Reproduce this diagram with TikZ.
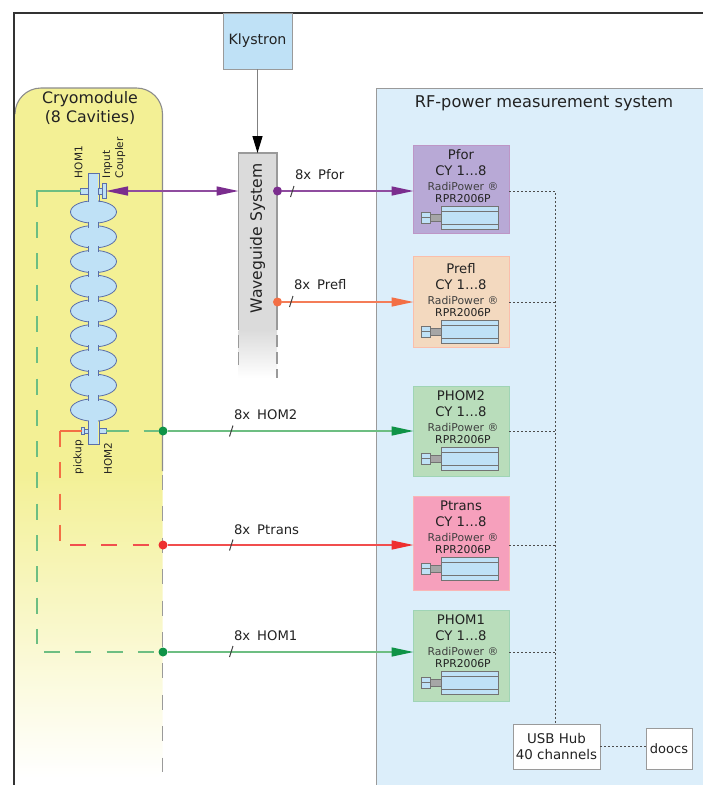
\documentclass[tikz,border=0pt]{standalone}
\usepackage{fontspec}
\setmainfont{DejaVu Sans}
\usetikzlibrary{arrows.meta}
\definecolor{frameC}{HTML}{333333}
\definecolor{blueC}{HTML}{BFE1F6}
\definecolor{rfC}{HTML}{DCEEFA}
\definecolor{yelC}{HTML}{F3F095}
\definecolor{edgeC}{HTML}{9A9A9A}
\definecolor{purC}{HTML}{7B2D8E}
\definecolor{oraC}{HTML}{F36F45}
\definecolor{greC}{HTML}{0F9347}
\definecolor{greL}{HTML}{6DBE82}
\definecolor{redC}{HTML}{EE2F2F}
\definecolor{txtC}{HTML}{222222}
\definecolor{cavC}{HTML}{5B6FA8}
\definecolor{mPur}{HTML}{B8A9D6}
\definecolor{mOra}{HTML}{F3D9BF}
\definecolor{mGre}{HTML}{B9DDBB}
\definecolor{mPin}{HTML}{F6A0BC}
\tikzset{
  lbl/.style={inner sep=0pt,outer sep=0pt,text=txtC,font=\fontsize{13.2}{15}\selectfont,align=center},
  biglbl/.style={lbl,font=\fontsize{15.8}{19}\selectfont},
  rot/.style={lbl,rotate=90,anchor=west,font=\fontsize{10.5}{12}\selectfont},
  whitebox/.style={draw=edgeC,fill=white,inner sep=0pt,outer sep=0pt,line width=1pt},
  dotline/.style={draw=black!70,line width=1pt,dash pattern=on 2pt off 2pt},
  sig/.style={line width=1.5pt,-{Triangle[length=22pt,width=9pt,color=#1,fill=#1]}},
  dashg/.style={line width=1.5pt,dash pattern=on 16pt off 15.3pt},
  joint/.style={circle,inner sep=0pt,minimum size=9pt,outer sep=0pt},
  slashm/.style={line width=1pt,draw=black!75},
  devbody/.style={draw=black!55,fill=blueC,line width=.8pt},
}
\newcommand{\measbox}[8]{% name, top, bottom, fill, border, title, ytitle, ydot
  \node[draw=#5,fill=#4,line width=1pt,inner sep=0pt,outer sep=0pt,minimum width=95.5pt,minimum height={#3pt-#2pt},anchor=north west] (#1) at (413.5,#2) {};
  \node[lbl] (#1t) at (461,#7) {#6};
  \node[lbl] (#1c) at (461,#7+16) {CY 1…8};
  \node[lbl,font=\fontsize{10.8}{12}\selectfont,text=black!75] (#1r) at (463,#7+31) {RadiPower ®};
  \node[lbl,font=\fontsize{10.8}{12}\selectfont] (#1m) at (463,#7+44) {RPR2006P};
  \draw[devbody] (441,#7+51) rectangle (498,#7+74);
  \draw[black!55,line width=.8pt] (441,#7+56.5) -- (498,#7+56.5) (441,#7+69) -- (498,#7+69);
  \draw[devbody] (421,#7+57) rectangle (430,#7+68);
  \draw[black!55,fill=black!35,line width=.6pt] (430,#7+59) rectangle (441,#7+66);
  \draw[black!55,line width=.6pt] (421,#7+62.5) -- (430,#7+62.5);
  \coordinate (#1o) at (509,#8);
  \coordinate (#1i) at (413.5,#8);
  \coordinate (#1b) at (555,#8);
}
\begin{document}
\begin{tikzpicture}[x=1pt,y=-1pt]
\useasboundingbox (0,0) rectangle (703,785);
% RF system
\path[fill=rfC] (376,88) rectangle (703,785);
\draw[edgeC,line width=1.1pt] (376.5,785) -- (376.5,88.5) -- (703,88.5);
\node[biglbl,font=\fontsize{16.2}{19}\selectfont] (rf) at (544,103) {RF-power measurement system};
% Cryomodule
\shade[top color=yelC,middle color=yelC!62!white,bottom color=white] (15,470) -- (162.5,470) [rounded corners=8pt] -- (162.5,778) -- (15,778) [sharp corners] -- cycle;
\fill[yelC] (15,471) [rounded corners=26pt] -- (15,88) -- (162.5,88) [sharp corners] -- (162.5,471) -- cycle;
\draw[black!45,line width=1.1pt] (15,112) [rounded corners=26pt] -- (15,88) -- (162.5,88) [sharp corners] -- (162.5,471);
\draw[edgeC,line width=1.2pt,dash pattern=on 15pt off 16.4pt] (162.5,475) -- (162.5,772);
\node[biglbl] (cryo) at (90,108.5) {Cryomodule\\(8 Cavities)};
% frame
\draw[frameC,line width=2pt] (14,785) -- (14,12.5) -- (703,12.5);
% Klystron
\node[draw=edgeC,fill=blueC,line width=1pt,inner sep=0pt,outer sep=0pt,minimum width=69pt,minimum height=56pt,anchor=north west] (kly) at (223,13) {};
\node[lbl,font=\fontsize{14.2}{16}\selectfont] (klyt) at (257.5,41) {Klystron};
% Waveguide
\fill[black!14] (238.5,153) rectangle (277,330);
\shade[top color=black!14,bottom color=white] (238.5,330) rectangle (277,378);
\draw[edgeC,line width=1.1pt] (238.5,330) -- (238.5,153) -- (277,153) -- (277,330);
\draw[edgeC,line width=1.1pt,dash pattern=on 13pt off 4pt] (238.5,335) -- (238.5,366);
\draw[edgeC,line width=1.1pt,dash pattern=on 12pt off 5pt] (277,335) -- (277,378);
\coordinate (wgtop) at (257.5,153);
\coordinate (wgleft) at (238.5,191);
\node[lbl,rotate=90,font=\fontsize{15.6}{16}\selectfont] (wg) at (257.5,238.5) {Waveguide System};
\draw[draw=black!50,line width=1.3pt,-{Triangle[length=17pt,width=10pt,fill=black,color=black]}] (kly.south -| wgtop) -- (wgtop);
% Measurement boxes
\measbox{pfor}{145}{233}{mPur}{purC!50}{Pfor}{155}{191}
\measbox{pref}{256}{347}{mOra}{oraC!45}{Prefl}{269}{302}
\measbox{phtwo}{386}{476}{mGre}{greC!40}{PHOM2}{396}{431}
\measbox{ptr}{496}{590}{mPin}{redC!35}{Ptrans}{506}{545}
\measbox{phone}{610}{701}{mGre}{greC!40}{PHOM1}{620}{652}
% Hub
\node[whitebox,minimum width=87pt,minimum height=45pt,anchor=north west,align=center,font=\fontsize{13.4}{16}\selectfont,text=txtC] (usb) at (513,724) {USB Hub\\40 channels};
\node[whitebox,minimum width=46pt,minimum height=41pt,anchor=north west,font=\fontsize{13}{14}\selectfont,text=txtC] (doocs) at (646,728) {doocs};
\draw[dotline] (pforo) -- (pforb) -- (usb.north -| pforb);
\draw[dotline] (prefo) -- (prefb);
\draw[dotline] (phtwoo) -- (phtwob);
\draw[dotline] (ptro) -- (ptrb);
\draw[dotline] (phoneo) -- (phoneb);
\draw[dotline] (usb.east) -- (usb.east -| doocs.west);
% Cavity
\foreach \c in {0,...,8}{
  \draw[draw=cavC,fill=blueC,line width=.8pt] (93.5,212+24.75*\c) ellipse [x radius=23,y radius=11.2];
}
\fill[blueC] (88.7,173) rectangle (98.3,444);
\draw[draw=cavC,line width=.8pt] (88,202) -- (88,173) -- (99,173) -- (99,202);
\draw[draw=cavC,line width=.8pt] (88,420.5) -- (88,444) -- (99,444) -- (99,420.5);
\foreach \c in {0,...,7}{
  \draw[draw=cavC,line width=.8pt] (88.5,221.5+24.75*\c) -- (88.5,227.5+24.75*\c) (98.5,221.5+24.75*\c) -- (98.5,227.5+24.75*\c);
}
% couplers
\node[draw=cavC,fill=blueC,line width=.7pt,inner sep=0pt,outer sep=0pt,minimum width=7.5pt,minimum height=6pt] (homtop) at (84.5,191) {};
\draw[draw=cavC,fill=blueC,line width=.7pt] (98.5,188) rectangle (102,194);
\node[draw=cavC,fill=blueC,line width=.7pt,inner sep=0pt,outer sep=0pt,minimum width=4pt,minimum height=15pt] (coup) at (104,191) {};
\draw[draw=cavC,fill=blueC,line width=.7pt] (84.5,429.5) rectangle (88.5,433);
\node[draw=cavC,fill=blueC,line width=.7pt,inner sep=0pt,outer sep=0pt,minimum width=2.5pt,minimum height=7pt] (pick) at (83,431) {};
\node[draw=cavC,fill=blueC,line width=.7pt,inner sep=0pt,outer sep=0pt,minimum width=7pt,minimum height=5.5pt] (homb) at (102.5,431) {};
% rotated labels
\node[rot] (l1) at (78.5,178) {HOM1};
\node[rot,align=left,font=\fontsize{10.5}{13}\selectfont] (l2) at (114,178) {Input\\Coupler};
\node[rot] (l3) at (78.5,474.5) {pickup};
\node[rot] (l4) at (108,474.5) {HOM2};
% signal joints
\node[joint,fill=purC] (jfor) at (277.5,191) {};
\node[joint,fill=oraC] (jref) at (277.5,302) {};
\node[joint,fill=greC] (jh2) at (163,431) {};
\node[joint,fill=redC] (jtr) at (163,545) {};
\node[joint,fill=greC] (jh1) at (163,652) {};
% signals
\draw[sig=purC,draw=purC!85!white] (jfor) -- (pfori);
\draw[sig=oraC,draw=oraC!90!white] (jref) -- (prefi);
\draw[sig=greC,draw=greL] (jh2) -- (phtwoi);
\draw[sig=redC,draw=redC!85!white] (jtr) -- (ptri);
\draw[sig=greC,draw=greL] (jh1) -- (phonei);
\draw[draw=purC!85!white,line width=1.5pt,{Triangle[length=22pt,width=9pt,color=purC,fill=purC]}-{Triangle[length=22pt,width=9pt,color=purC,fill=purC]}] (coup.east) -- (wgleft);
% dashed returns
\coordinate (gc) at (37,191);
\coordinate (oc) at (60,431);
\coordinate (rs) at (70,545);
\coordinate (ge) at (44,652);
\draw[draw=greL,line width=1.5pt] (homtop.west) -- (gc) -- (37,207);
\draw[draw=greL,dashg] (37,222) -- (37,644);
\draw[draw=greL,dashg] (ge) -- (jh1);
\draw[draw=oraC,line width=1.5pt] (pick.west) -- (oc);
\draw[draw=oraC,dashg] (oc) -- (60,541);
\draw[draw=redC!85!white,dashg] (rs) -- (jtr);
\draw[draw=greL,line width=1.5pt,dash pattern=on 22.5pt off 15pt] (homb.east) -- (jh2);
% slashes and labels
\draw[slashm] (290.5,197) -- (294,186);
\draw[slashm] (289.5,307) -- (293,296);
\draw[slashm] (229.5,436.5) -- (233,425.5);
\draw[slashm] (229.5,550.5) -- (233,539.5);
\draw[slashm] (229.5,657) -- (233,646);
\node[lbl,anchor=west] (t1) at (295,175) {8x\hspace{7pt}Pfor};
\node[lbl,anchor=west] (t2) at (294,285) {8x\hspace{7pt}Prefl};
\node[lbl,anchor=west] (t3) at (234,415) {8x\hspace{7pt}HOM2};
\node[lbl,anchor=west] (t4) at (234,530) {8x\hspace{7pt}Ptrans};
\node[lbl,anchor=west] (t5) at (234,636) {8x\hspace{7pt}HOM1};
\end{tikzpicture}
\end{document}
